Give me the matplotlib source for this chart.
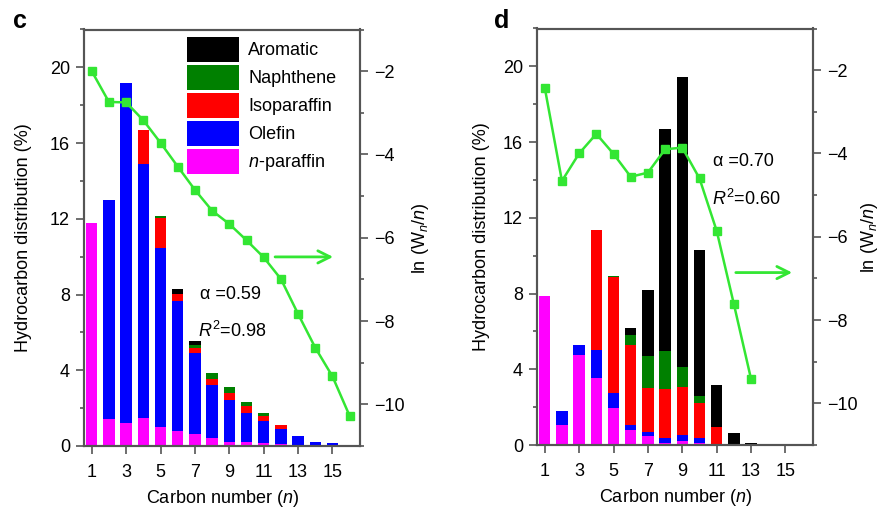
import matplotlib
matplotlib.use("Agg")
import matplotlib.pyplot as plt
import numpy as np
from matplotlib.ticker import MultipleLocator

plt.rcParams['font.family'] = ['Liberation Sans', 'DejaVu Sans']
plt.rcParams['mathtext.fontset'] = 'custom'
plt.rcParams['mathtext.rm'] = 'Liberation Sans'
plt.rcParams['mathtext.it'] = 'Liberation Sans:italic'
plt.rcParams['mathtext.bf'] = 'Liberation Sans:bold'

# ---------------- data ----------------
carbon = np.arange(1, 17)
series_names = ['n-paraffin', 'Olefin', 'Isoparaffin', 'Naphthene', 'Aromatic']
legend_labels = {'Aromatic': 'Aromatic', 'Naphthene': 'Naphthene',
                 'Isoparaffin': 'Isoparaffin', 'Olefin': 'Olefin',
                 'n-paraffin': '$n$-paraffin'}
colors = {'n-paraffin': '#ff00ff', 'Olefin': '#0000ff', 'Isoparaffin': '#ff0000',
          'Naphthene': '#008000', 'Aromatic': '#000000'}

# panel c
npar_c = [11.8, 1.41, 1.23, 1.46, 1.02, 0.79, 0.62, 0.40, 0.23, 0.20, 0.15, 0.10, 0.06, 0.03, 0.02, 0.01]
olef_c = [0.0, 11.57, 17.94, 13.46, 9.46, 6.88, 4.30, 2.80, 2.20, 1.52, 1.19, 0.80, 0.49, 0.20, 0.12, 0.05]
iso_c = [0, 0, 0, 1.79, 1.57, 0.36, 0.27, 0.33, 0.35, 0.38, 0.26, 0.21, 0, 0, 0, 0]
naph_c = [0, 0, 0, 0, 0.08, 0.0, 0.14, 0.34, 0.35, 0.23, 0.16, 0, 0, 0, 0, 0]
arom_c = [0, 0, 0, 0, 0, 0.24, 0.23, 0.0, 0, 0, 0, 0, 0, 0, 0, 0]
lnw_c = [-2.0, -2.74, -2.75, -3.18, -3.72, -4.29, -4.85, -5.35, -5.67, -6.06,
         -6.47, -6.99, -7.83, -8.64, -9.33, -10.28]
alpha_c = '0.59'
r2_c = '0.98'

# panel d
npar_d = [7.88, 1.06, 4.75, 3.55, 1.97, 0.79, 0.47, 0.12, 0.23, 0.08, 0, 0.05, 0, 0, 0, 0]
olef_d = [0, 0.75, 0.53, 1.47, 0.79, 0.27, 0.23, 0.23, 0.30, 0.27, 0, 0, 0, 0, 0, 0]
iso_d = [0, 0, 0, 6.33, 6.09, 4.22, 2.29, 2.59, 2.51, 1.89, 0.97, 0, 0, 0, 0, 0]
naph_d = [0, 0, 0, 0, 0.08, 0.53, 1.71, 2.04, 1.09, 0.37, 0, 0, 0, 0, 0, 0]
arom_d = [0, 0, 0, 0, 0, 0.38, 3.51, 11.71, 15.31, 7.68, 2.20, 0.57, 0.08, 0, 0, 0]
carbon_line_d = np.arange(1, 14)
lnw_d = [-2.42, -4.66, -4.0, -3.53, -4.01, -4.56, -4.46, -3.90, -3.86, -4.6,
         -5.86, -7.62, -9.42]
alpha_d = '0.70'
r2_d = '0.60'

green = '#33e633'
spine_col = '#555555'
FS = 13

fig = plt.figure(figsize=(8.81, 5.09), dpi=100)
W, H = 881, 509


def make_axes(l, r, t, b):
    return fig.add_axes([l / W, 1 - b / H, (r - l) / W, (b - t) / H])


def style(ax, right=False):
    for s in ax.spines.values():
        s.set_color(spine_col)
        s.set_linewidth(1.5)
    ax.tick_params(which='major', direction='out', length=6, width=1.2,
                   color=spine_col, labelsize=FS, pad=4)
    ax.tick_params(which='minor', direction='out', length=3, width=1.2,
                   color=spine_col)


def panel(ax, data, xline, lnw, alpha, r2, arrow, txt, leg):
    bottom = np.zeros(len(carbon))
    handles = {}
    for name, vals in zip(series_names, data):
        vals = np.array(vals, dtype=float)
        h = ax.bar(carbon, vals, width=0.66, bottom=bottom, color=colors[name],
                   linewidth=0, label=legend_labels[name])
        handles[name] = h
        bottom += vals
    ax.set_xlim(0.55, 16.6)
    ax.set_ylim(0, 22)
    ax.set_xticks(np.arange(1, 16, 2))
    ax.yaxis.set_major_locator(MultipleLocator(4))
    ax.yaxis.set_minor_locator(MultipleLocator(2))
    style(ax)
    ax.tick_params(axis='x', pad=7)
    ax.set_xlabel('Carbon number ($n$)', fontsize=FS, labelpad=5)
    ax.set_ylabel('Hydrocarbon distribution (%)', fontsize=FS)

    ax2 = ax.twinx()
    ax2.set_ylim(-11, -1)
    ax2.yaxis.set_major_locator(MultipleLocator(2))
    ax2.yaxis.set_minor_locator(MultipleLocator(1))
    ax2.set_yticks([-2, -4, -6, -8, -10])
    ax2.set_yticklabels(['\u22122', '\u22124', '\u22126', '\u22128', '\u221210'])
    style(ax2)
    ax2.plot(xline, lnw, color=green, lw=1.8, marker='s', markersize=6,
             markeredgecolor=green, markerfacecolor=green)
    ax2.set_ylabel('ln (W$_{n}$/$n$)', fontsize=FS)
    ax2.annotate('', xy=(arrow[1], arrow[2]), xytext=(arrow[0], arrow[2]),
                 arrowprops=dict(arrowstyle='->', color=green, lw=2,
                                 mutation_scale=22))
    ax.text(txt[0], txt[1], '\u03b1 =' + alpha, fontsize=FS, va='center')
    ax.text(txt[0] - 0.1, txt[2], '$R^2$=' + r2, fontsize=FS, va='center')
    if leg:
        order = ['Aromatic', 'Naphthene', 'Isoparaffin', 'Olefin', 'n-paraffin']
        ax.legend([handles[k] for k in order], [legend_labels[k] for k in order],
                  loc='upper left', bbox_to_anchor=(187 / W, 1 - 37 / H),
                  bbox_transform=fig.transFigure, frameon=False, fontsize=FS,
                  handlelength=2.9, handleheight=1.75, labelspacing=0.17,
                  handletextpad=0.5, borderpad=0, borderaxespad=0)
    return ax2


axc = make_axes(84, 360, 29.5, 446)
axc2 = panel(axc, [npar_c, olef_c, iso_c, naph_c, arom_c], carbon, lnw_c,
             alpha_c, r2_c, (11.5, 15.2, -6.46), (7.3, 8.0, 6.1), True)
axd = make_axes(537, 813, 28.5, 445)
axd2 = panel(axd, [npar_d, olef_d, iso_d, naph_d, arom_d], carbon_line_d, lnw_d,
             alpha_d, r2_d, (11.95, 15.55, -6.86), (10.8, 15.0, 13.0), False)

axc.yaxis.set_label_coords(-0.19, 0.5)
axc2.yaxis.set_label_coords(1.18, 0.5)
axd.yaxis.set_label_coords(-0.17, 0.5)
axd2.yaxis.set_label_coords(1.165, 0.5)

fig.text(13 / W, 1 - 28 / H, 'c', fontsize=18, fontweight='bold', va='baseline')
fig.text(494 / W, 1 - 28 / H, 'd', fontsize=18, fontweight='bold', va='baseline')

fig.savefig('out.png', dpi=100)
